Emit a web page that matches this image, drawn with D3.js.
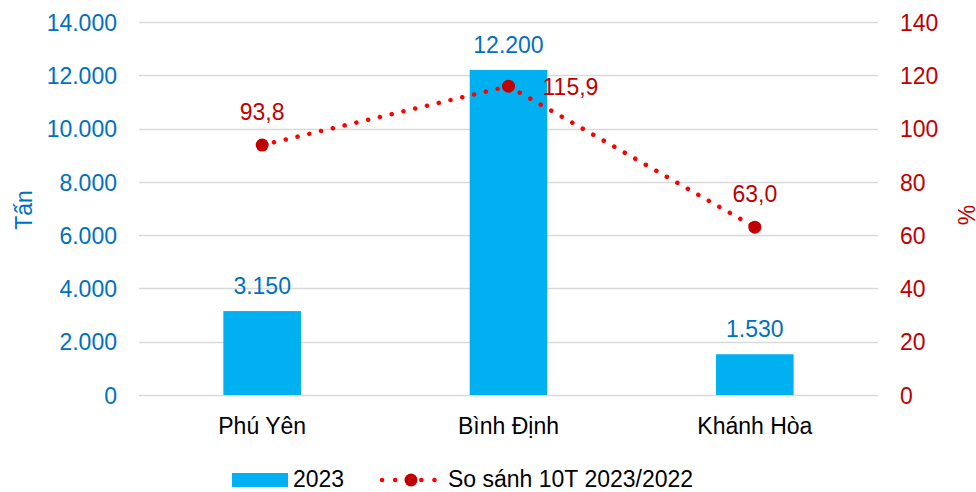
<!DOCTYPE html>
<html>
<head>
<meta charset="utf-8">
<script src="https://cdn.jsdelivr.net/npm/d3@7"></script>
<style>
  body { margin: 0; background: #fff; }
  svg text { font-family: "Liberation Sans", Arial, sans-serif; }
</style>
</head>
<body>
<svg width="976" height="492"></svg>
<script>
var provinces = ["Phú Yên", "Bình Định", "Khánh Hòa"];
var tonnes2023 = [3150, 12200, 1530];
var compare = [93.8, 115.9, 63.0];
var leftTicks = [0, 2000, 4000, 6000, 8000, 10000, 12000, 14000];
var rightTicks = [0, 20, 40, 60, 80, 100, 120, 140];
var seriesNames = ["2023", "So sánh 10T 2023/2022"];

var blue = "#0070C0", cyan = "#00B0F0", darkRed = "#C00000", red = "#FF0000";
var fs = 23;

var svg = d3.select("svg");
var plotLeft = 139, plotRight = 878, plotTop = 22, plotBottom = 395;

var x = d3.scaleBand().domain(provinces).range([plotLeft, plotRight]).paddingInner(0.685).paddingOuter(0.3425);
var y = d3.scaleLinear().domain([0, 14000]).range([plotBottom, plotTop]);
var y2 = d3.scaleLinear().domain([0, 140]).range([plotBottom, plotTop]);

var fmtDot = function(v) { return d3.format(",")(v).replace(/,/g, "."); };
var fmtComma = function(v) { return d3.format(".1f")(v).replace(".", ","); };

// gridlines
svg.append("g").selectAll("line").data(leftTicks).join("line")
  .attr("x1", plotLeft).attr("x2", plotRight)
  .attr("y1", function(d) { return Math.round(y(d)) + 0.5; })
  .attr("y2", function(d) { return Math.round(y(d)) + 0.5; })
  .attr("stroke", "#d9d9d9").attr("stroke-width", 1.3);

// left axis
var la = svg.append("g").attr("transform", "translate(" + (plotLeft - 22) + ",0)")
  .call(d3.axisLeft(y).tickValues(leftTicks).tickFormat(fmtDot).tickSize(0).tickPadding(0));
la.select(".domain").remove();
la.selectAll("text").attr("fill", blue).attr("font-size", fs).attr("dy", "0.36em");

// right axis
var ra = svg.append("g").attr("transform", "translate(" + (plotRight + 22) + ",0)")
  .call(d3.axisRight(y2).tickValues(rightTicks).tickSize(0).tickPadding(0));
ra.select(".domain").remove();
ra.selectAll("text").attr("fill", darkRed).attr("font-size", fs).attr("dy", "0.36em");

// x axis labels
var xa = svg.append("g").attr("transform", "translate(0," + plotBottom + ")")
  .call(d3.axisBottom(x).tickSize(0).tickPadding(23));
xa.select(".domain").remove();
xa.selectAll("text").attr("fill", "#000").attr("font-size", fs).attr("dy", "0.71em");

// axis titles
svg.append("text").attr("transform", "translate(32,210) rotate(-90)")
  .attr("text-anchor", "middle").attr("fill", blue).attr("font-size", fs).text("Tấn");
svg.append("text").attr("transform", "translate(975,215) rotate(-90)")
  .attr("text-anchor", "middle").attr("fill", darkRed).attr("font-size", fs).text("%");

// bars
svg.append("g").selectAll("rect").data(tonnes2023).join("rect")
  .attr("x", function(d, i) { return x(provinces[i]); })
  .attr("width", x.bandwidth())
  .attr("y", function(d) { return y(d); })
  .attr("height", function(d) { return y(0) - y(d); })
  .attr("fill", cyan);

// bar labels
svg.append("g").selectAll("text").data(tonnes2023).join("text")
  .attr("x", function(d, i) { return x(provinces[i]) + x.bandwidth() / 2; })
  .attr("y", function(d) { return y(d) - 17; })
  .attr("text-anchor", "middle").attr("fill", blue).attr("font-size", fs)
  .text(fmtDot);

// line
var cx = function(d, i) { return x(provinces[i]) + x.bandwidth() / 2; };
var line = d3.line().x(cx).y(function(d) { return y2(d); });
svg.append("path").datum(compare)
  .attr("d", line).attr("fill", "none").attr("stroke", red)
  .attr("stroke-width", 4.5).attr("stroke-linecap", "round")
  .attr("stroke-dasharray", "0.1 12");

svg.append("g").selectAll("circle").data(compare).join("circle")
  .attr("cx", cx).attr("cy", function(d) { return y2(d); })
  .attr("r", 6.5).attr("fill", darkRed);

// line labels
var lblOff = [[0, -25, "middle"], [34, 9, "start"], [0, -25, "middle"]];
svg.append("g").selectAll("text").data(compare).join("text")
  .attr("x", function(d, i) { return cx(d, i) + lblOff[i][0]; })
  .attr("y", function(d) { return y2(d); })
  .attr("dy", function(d, i) { return lblOff[i][1]; })
  .attr("text-anchor", function(d, i) { return lblOff[i][2]; })
  .attr("fill", darkRed).attr("font-size", fs)
  .text(fmtComma);

// legend
var lg = svg.append("g").attr("transform", "translate(0,479)");
lg.append("rect").attr("x", 232).attr("y", -6).attr("width", 56).attr("height", 14).attr("fill", cyan);
lg.append("text").attr("x", 293).attr("y", 0).attr("dy", "0.36em")
  .attr("font-size", fs).attr("fill", "#000").text(seriesNames[0]);
lg.append("line").attr("x1", 382).attr("x2", 439).attr("y1", 1).attr("y2", 1)
  .attr("stroke", red).attr("stroke-width", 4.5).attr("stroke-linecap", "round")
  .attr("stroke-dasharray", "0.1 13");
lg.append("circle").attr("cx", 411).attr("cy", 1).attr("r", 6.5).attr("fill", darkRed);
lg.append("text").attr("x", 448).attr("y", 0).attr("dy", "0.36em")
  .attr("font-size", fs).attr("fill", "#000").text(seriesNames[1]);
</script>
</body>
</html>
